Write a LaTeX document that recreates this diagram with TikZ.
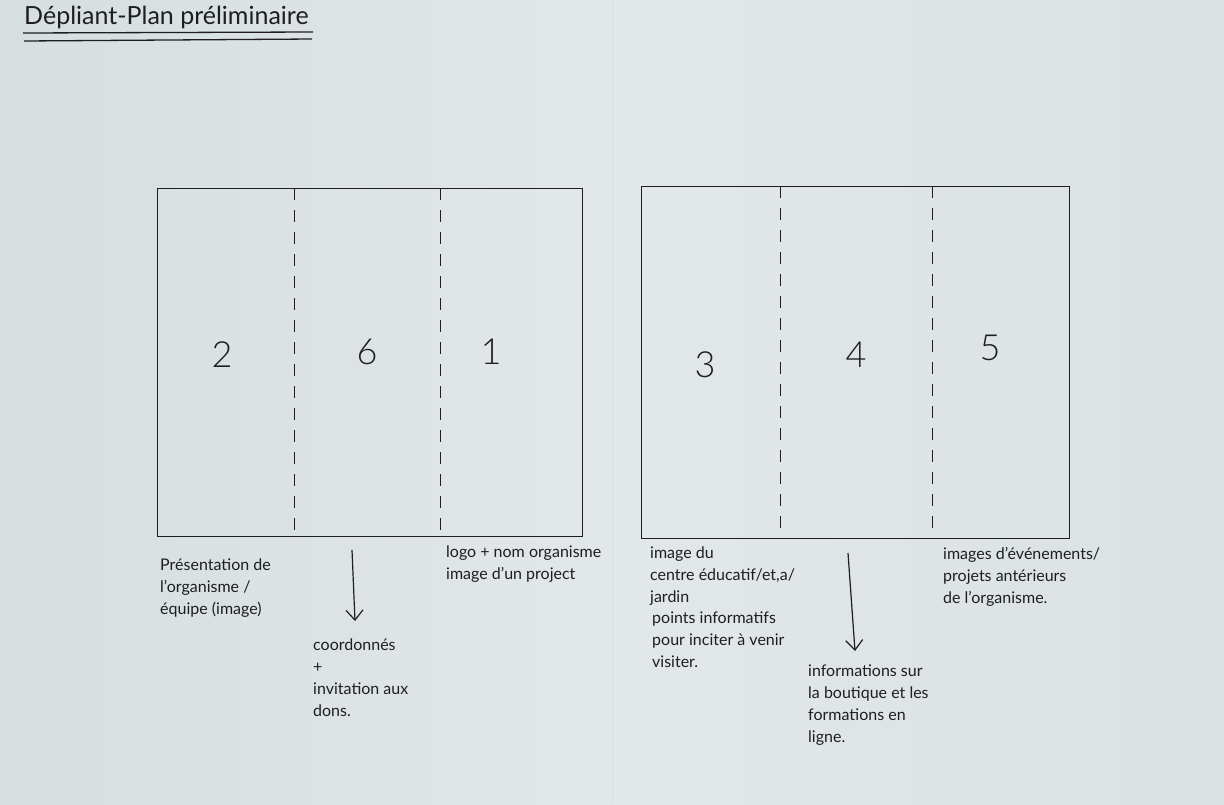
\documentclass[tikz,border=0pt]{standalone}
\usepackage{fontspec}
\setmainfont{Lato}
\usetikzlibrary{arrows.meta}
\definecolor{paperL}{RGB}{214,222,222}
\definecolor{paperR}{RGB}{226,231,231}
\definecolor{ink}{RGB}{30,30,33}
\tikzset{
  panel/.style={draw=ink, line width=1.4pt},
  fold/.style={draw=ink, line width=1pt, dash pattern=on 12pt off 10pt},
  num/.style={text=ink, font=\fontsize{36}{36}\selectfont\fontspec{Lato Light}},
  note/.style={text=ink, anchor=north west, align=left, inner sep=0pt,
    font=\fontsize{16}{22}\selectfont},
  pointer/.style={draw=ink, line width=1.2pt, -{Straight Barb[length=10pt,width=17pt]}}
}
\begin{document}
\begin{tikzpicture}[x=1pt,y=-1pt]
  % sheet of paper, two halves
  \useasboundingbox (0,0) rectangle (1224,804);
  \shade[left color=paperL, right color=paperR] (0,0) rectangle (612,804);
  \shade[left color=paperR, right color=paperL!60!paperR] (612,0) rectangle (1224,804);
  \draw[paperL!85!black, line width=0.5pt, opacity=0.2] (612,0) -- (612,804);

  % title with double underline
  \node[text=ink, anchor=south west, inner sep=0pt, font=\fontsize{25}{25}\selectfont] (title) at (24,29) {Dépliant-Plan préliminaire};
  \draw[ink, line width=1.3pt] (23,33) -- (313,32);
  \draw[ink, line width=1.3pt] (24,41) -- (312,39);

  % outer side of the leaflet
  \node[panel, minimum width=425pt, minimum height=348pt, anchor=north west, inner sep=0pt] (outer) at (157,188) {};
  \draw[fold] (294,188) -- (294,536);
  \draw[fold] (440,188) -- (440,536);
  \node[num] (p2) at (222,355) {2};
  \node[num] (p6) at (367,352) {6};
  \node[num] (p1) at (491,352) {1};

  % inner side of the leaflet
  \node[panel, minimum width=428pt, minimum height=352pt, anchor=north west, inner sep=0pt] (inner) at (641,186) {};
  \draw[fold] (780,186) -- (780,538);
  \draw[fold] (932,186) -- (932,538);
  \node[num] (p3) at (705,365) {3};
  \node[num] (p4) at (856,355) {4};
  \node[num] (p5) at (990,348) {5};

  % notes for each panel
  \node[note] (n2) at (160,559) {Présentation de\\l'organisme /\\équipe (image)};
  \node[note] (n1) at (446,546) {logo + nom organisme\\image d'un project};
  \node[note] (n6) at (313,639) {coordonnés\\+\\invitation aux\\dons.};
  \node[note] (n3) at (650,547) {image du\\centre éducatif/et,a/\\jardin};
  \node[note] (n3b) at (652,612) {points informatifs\\pour inciter à venir\\visiter.};
  \node[note] (n4) at (808,665) {informations sur\\la boutique et les\\formations en\\ligne.};
  \node[note] (n5) at (943,547) {images d'événements/\\projets antérieurs\\de l'organisme.};

  % pointers toward the notes
  \coordinate (a6s) at (352,550);
  \coordinate (a6e) at (355,621);
  \draw[pointer] (a6s) -- (a6e);
  \coordinate (a4s) at (848,553);
  \coordinate (a4e) at (855,651);
  \draw[pointer] (a4s) -- (a4e);
\end{tikzpicture}
\end{document}
